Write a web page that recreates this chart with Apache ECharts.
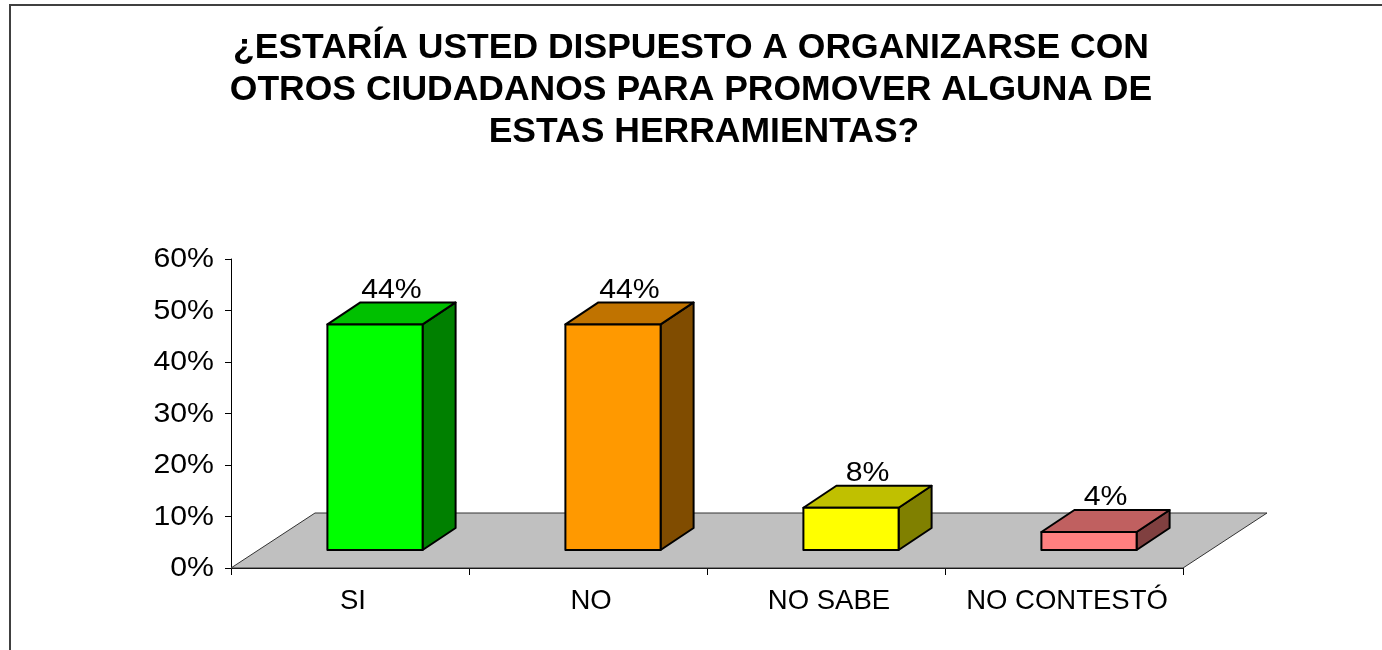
<!DOCTYPE html>
<html>
<head>
<meta charset="utf-8">
<script src="https://cdn.jsdelivr.net/npm/echarts@6/dist/echarts.min.js"></script>
<style>
  html, body { margin: 0; padding: 0; background: #fff; }
  .chart { width: 1382px; height: 650px; }
</style>
</head>
<body>
<div class="chart"></div>
<script>
var categories = ['SI', 'NO', 'NO SABE', 'NO CONTESTÓ'];
var values = [43.8, 43.8, 8.2, 3.5];
var yTicks = [0, 10, 20, 30, 40, 50, 60];
var titleLines = [
  '¿ESTARÍA USTED DISPUESTO A ORGANIZARSE CON',
  'OTROS CIUDADANOS PARA PROMOVER ALGUNA DE',
  'ESTAS HERRAMIENTAS?'
];

// colores de cada barra: frente, tapa, lado
var frontColors = ['#00ff00', '#ff9900', '#ffff00', '#ff8080'];
var topColors = ['#00c000', '#c07300', '#c0c000', '#c06060'];
var sideColors = ['#008000', '#804c00', '#808000', '#804040'];

var FONT = '"Liberation Sans", Arial, sans-serif';
// perspectiva del piso y de las barras
var FLOOR_DX = 84, FLOOR_DY = -55;
var FRONT_DX = 25, FRONT_DY = -18;
var DEPTH_DX = 33, DEPTH_DY = -22;

var chart = echarts.init(document.querySelector('.chart'));

function txt(x, y, text, size, sx, align, bold) {
  return {
    type: 'text', x: x, y: y, scaleX: sx,
    style: {
      text: text, fill: '#000', fontSize: size, fontFamily: FONT,
      fontWeight: bold ? 'bold' : 'normal',
      align: align || 'center', verticalAlign: 'middle'
    }
  };
}

var option = {
  animation: false,
  grid: { left: 231, right: 199, top: 259, bottom: 82 },
  graphic: {
    elements: [
      { type: 'rect', z: -10, shape: { x: 10, y: 5, width: 1400, height: 700 },
        style: { fill: 'none', stroke: '#404040', lineWidth: 2 } },
      txt(691, 48, titleLines[0], 35.5, 1, 'center', true),
      txt(691, 90, titleLines[1], 35.5, 1, 'center', true),
      txt(704, 132, titleLines[2], 35.5, 1, 'center', true)
    ]
  },
  xAxis: {
    type: 'category',
    data: categories,
    boundaryGap: true,
    axisLine: { show: true, lineStyle: { color: '#000', width: 1 } },
    axisTick: { show: true, length: 7, lineStyle: { color: '#000' } },
    axisLabel: { show: false },
    splitLine: { show: false }
  },
  yAxis: {
    type: 'value',
    min: 0, max: 60, interval: 10,
    axisLine: { show: true, lineStyle: { color: '#000', width: 1 } },
    axisTick: { show: true, length: 6, lineStyle: { color: '#000' } },
    axisLabel: { show: false },
    splitLine: { show: false }
  },
  series: [
    {
      // piso gris
      type: 'custom', z: 1, silent: true,
      data: [[0, 0]],
      renderItem: function (params, api) {
        var band = api.size([1, 0])[0];
        var a = api.coord([0, 0]);
        var b = api.coord([categories.length - 1, 0]);
        var l = a[0] - band / 2, r = b[0] + band / 2, y = a[1];
        return {
          type: 'polygon',
          shape: { points: [[l, y], [r, y], [r + FLOOR_DX, y + FLOOR_DY], [l + FLOOR_DX, y + FLOOR_DY]] },
          style: { fill: '#c0c0c0', stroke: '#333', lineWidth: 1 }
        };
      }
    },
    {
      // barras 3D
      type: 'custom', z: 3,
      data: values.map(function (v, i) { return [i, v]; }),
      renderItem: function (params, api) {
        var i = params.dataIndex;
        var v = api.value(1);
        var band = api.size([1, 0])[0];
        var base = api.coord([api.value(0), 0]);
        var top = api.coord([api.value(0), v]);
        var w = band * 0.4;
        var cx = base[0] + FRONT_DX;
        var x0 = cx - w / 2, x1 = cx + w / 2;
        var yb = base[1] + FRONT_DY, yt = top[1] + FRONT_DY;
        var line = { stroke: '#000', lineWidth: 2, lineJoin: 'round' };
        return {
          type: 'group',
          children: [
            { type: 'polygon', shape: { points: [[x1, yb], [x1 + DEPTH_DX, yb + DEPTH_DY], [x1 + DEPTH_DX, yt + DEPTH_DY], [x1, yt]] },
              style: Object.assign({ fill: sideColors[i] }, line) },
            { type: 'polygon', shape: { points: [[x0, yt], [x1, yt], [x1 + DEPTH_DX, yt + DEPTH_DY], [x0 + DEPTH_DX, yt + DEPTH_DY]] },
              style: Object.assign({ fill: topColors[i] }, line) },
            { type: 'rect', shape: { x: x0, y: yt, width: w, height: yb - yt },
              style: Object.assign({ fill: frontColors[i] }, line) },
            txt(cx + DEPTH_DX / 2, yt + DEPTH_DY - 12, Math.round(v) + '%', 27, 1.12)
          ]
        };
      }
    },
    {
      // etiquetas del eje Y
      type: 'custom', z: 4, silent: true,
      data: yTicks.map(function (t) { return [0, t]; }),
      renderItem: function (params, api) {
        var band = api.size([1, 0])[0];
        var p = api.coord([0, api.value(1)]);
        return txt(p[0] - band / 2 - 17, p[1] + 1, api.value(1) + '%', 27, 1.12, 'right');
      }
    },
    {
      // etiquetas de categoría
      type: 'custom', z: 4, silent: true,
      data: categories.map(function (c, i) { return [i, 0]; }),
      renderItem: function (params, api) {
        var p = api.coord([api.value(0), 0]);
        return txt(p[0] + 3, p[1] + 33, categories[params.dataIndex], 27.5, 1);
      }
    }
  ]
};

chart.setOption(option);
</script>
</body>
</html>
